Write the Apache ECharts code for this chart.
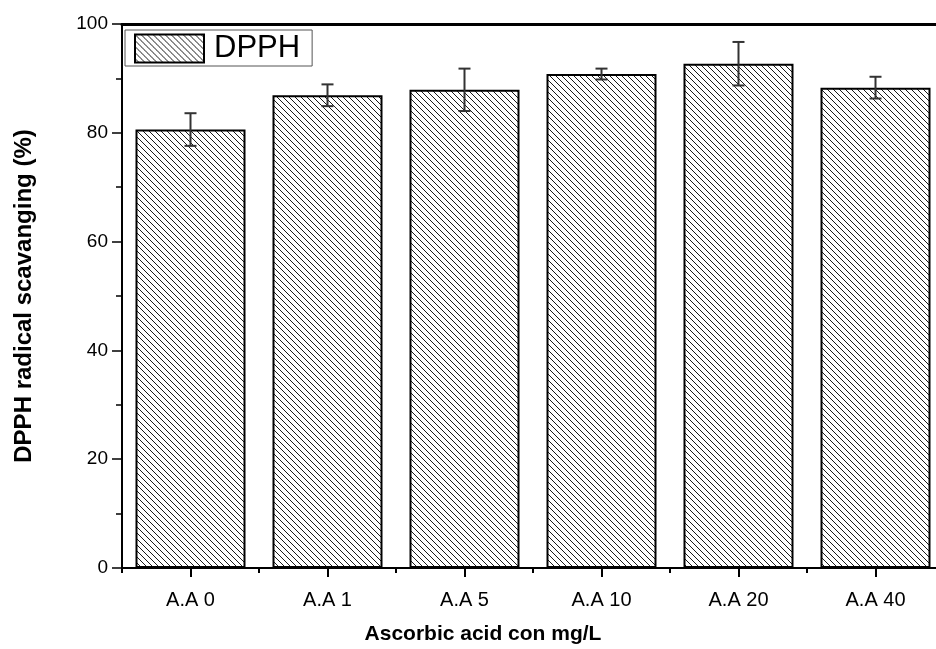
<!DOCTYPE html>
<html>
<head>
<meta charset="utf-8">
<script src="https://cdn.jsdelivr.net/npm/echarts@6/dist/echarts.min.js"></script>
<style>
  html, body { margin: 0; padding: 0; background: #fff; }
  #main { width: 936px; height: 649px; }
</style>
</head>
<body>
<div id="main"></div>
<script>
var categories = ['A.A 0', 'A.A 1', 'A.A 5', 'A.A 10', 'A.A 20', 'A.A 40']
var dpph = [80.6, 86.9, 87.9, 90.8, 92.7, 88.3]
var dpphErr = [3.0, 2.0, 3.9, 1.0, 4.0, 2.0]
var yTicks = [0, 20, 40, 60, 80, 100]

// hatch fill (\\\\) like the original plot
function makeHatch() {
  var c = document.createElement('canvas')
  var s = 6
  c.width = s
  c.height = s
  var ctx = c.getContext('2d')
  ctx.fillStyle = '#fff'
  ctx.fillRect(0, 0, s, s)
  ctx.strokeStyle = '#1a1a1a'
  ctx.lineWidth = 1
  ctx.beginPath()
  ctx.moveTo(-1, -1); ctx.lineTo(s + 1, s + 1)
  ctx.moveTo(-1, s - 1); ctx.lineTo(1, s + 1)
  ctx.moveTo(s - 1, -1); ctx.lineTo(s + 1, 1)
  ctx.stroke()
  return c
}

var errData = categories.map(function(c, i) {
  return [i, dpph[i] - dpphErr[i], dpph[i] + dpphErr[i]]
})

var chart = echarts.init(document.getElementById('main'))
var font = 'Liberation Sans, Arial, sans-serif'
var option = {
  animation: false,
  textStyle: { fontFamily: font },
  title: {
    text: 'Ascorbic acid con mg/L',
    left: 483,
    top: 624,
    textAlign: 'center',
    padding: 0,
    textStyle: { fontSize: 21, fontWeight: 'bold', color: '#000', fontFamily: font }
  },
  grid: {
    left: 122,
    top: 24,
    width: 822,
    height: 544,
    outerBoundsMode: 'none',
    containLabel: false,
    show: false
  },
  legend: {
    data: ['DPPH'],
    left: 125,
    top: 30,
    orient: 'vertical',
    padding: [3, 12, 2, 9],
    borderColor: '#555',
    borderWidth: 1,
    itemWidth: 69,
    itemHeight: 28,
    icon: 'rect',
    textStyle: { fontSize: 31, lineHeight: 28, color: '#000', fontFamily: font, padding: [0, 0, 0, 5] }
  },
  xAxis: [
    {
      type: 'category',
      data: categories,
      position: 'bottom',
      axisLine: { show: true, lineStyle: { color: '#000', width: 2 } },
      axisTick: { show: true, alignWithLabel: true, length: 9, lineStyle: { color: '#000', width: 2 } },
      axisLabel: { show: true, fontSize: 20, color: '#000', margin: 22, fontFamily: font },
      splitLine: { show: false }
    },
    {
      type: 'category',
      data: categories,
      position: 'bottom',
      axisLine: { show: false },
      axisTick: { show: true, length: 5, lineStyle: { color: '#000', width: 2 } },
      axisLabel: { show: false },
      splitLine: { show: false }
    },
    {
      type: 'category',
      data: categories,
      position: 'top',
      axisLine: { show: true, lineStyle: { color: '#000', width: 3 } },
      axisTick: { show: false },
      axisLabel: { show: false },
      splitLine: { show: false }
    }
  ],
  yAxis: {
    type: 'value',
    min: 0,
    max: 100,
    interval: 20,
    name: 'DPPH radical scavanging (%)',
    nameLocation: 'middle',
    nameGap: 86,
    nameTextStyle: { fontSize: 24, fontWeight: 'bold', color: '#000', fontFamily: font },
    axisLine: { show: true, lineStyle: { color: '#000', width: 2 } },
    axisTick: { show: true, length: 10, lineStyle: { color: '#000', width: 1.5 } },
    minorTick: { show: true, splitNumber: 2, length: 6, lineStyle: { color: '#000', width: 1.5 } },
    axisLabel: {
      fontSize: 19, color: '#000', margin: 14, fontFamily: font,
      formatter: function(v) { return yTicks.indexOf(v) >= 0 ? String(v) : '' }
    },
    splitLine: { show: false }
  },
  // white strip on the far right edge (the original is cropped there)
  graphic: [
    { type: 'rect', right: 0, top: 30, z: 100, shape: { width: 5, height: 530 }, style: { fill: '#fff' } }
  ],
  series: [
    {
      name: 'DPPH',
      type: 'bar',
      data: dpph,
      barWidth: 110,
      itemStyle: {
        color: { image: makeHatch(), repeat: 'repeat' },
        borderColor: '#000',
        borderWidth: 2
      }
    },
    {
      name: 'err',
      type: 'custom',
      data: errData,
      z: 5,
      renderItem: function(params, api) {
        var lo = api.coord([api.value(0), api.value(1)])
        var hi = api.coord([api.value(0), api.value(2)])
        var hw = 6
        var st = { stroke: '#333', lineWidth: 2 }
        return {
          type: 'group',
          children: [
            { type: 'line', shape: { x1: hi[0], y1: hi[1], x2: lo[0], y2: lo[1] }, style: st },
            { type: 'line', shape: { x1: hi[0] - hw, y1: hi[1], x2: hi[0] + hw, y2: hi[1] }, style: st },
            { type: 'line', shape: { x1: lo[0] - hw, y1: lo[1], x2: lo[0] + hw, y2: lo[1] }, style: st }
          ]
        }
      }
    }
  ]
}
chart.setOption(option)
</script>
</body>
</html>
